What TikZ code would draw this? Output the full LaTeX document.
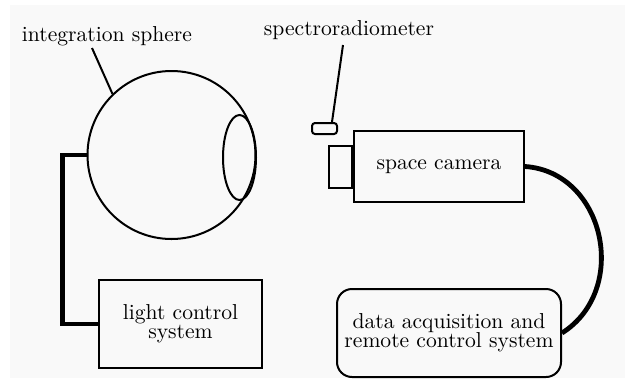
\documentclass[tikz,border=0pt]{standalone}
\usetikzlibrary{shapes.geometric}
\definecolor{bgpaper}{HTML}{F9F9F9}
\begin{document}
\begin{tikzpicture}[x=0.5pt,y=-0.5pt,
  thin line/.style={line width=1pt},
  wire/.style={line width=2.4pt},
  lbl/.style={inner sep=0pt, font=\fontsize{10.8}{9.6}\selectfont, align=center},
  boxed/.style={draw, thin line, inner sep=0pt, font=\fontsize{10.8}{9.6}\selectfont, align=center}]
\useasboundingbox[fill=white] (0,0) rectangle (627,381);
\fill[bgpaper] (10,5) rectangle (625,378);
% integration sphere
\node[circle, draw, thin line, inner sep=0pt, minimum size=84pt] (sphere) at (171.5,155) {};
\node[ellipse, draw, thin line, inner sep=0pt, minimum width=16.5pt, minimum height=42.5pt] (port) at (239.5,157.5) {};
\node[lbl] (intlabel) at (107,36) {integration sphere};
\coordinate (intend) at (92,48);
\draw[thin line] (intend) -- (sphere.134);
% light control
\node[boxed, minimum width=81.5pt, minimum height=44pt] (light) at (180.5,324) {light control\\system};
\draw[wire] (sphere.west) -- ++(-24,0) |- (light.west);
% spectroradiometer
\node[draw, thin line, rounded corners=1.5pt, inner sep=0pt, minimum width=12.5pt, minimum height=5.5pt] (spec) at (324.5,128.5) {};
\node[lbl] (speclabel) at (349,30) {spectroradiometer};
\coordinate (specend) at (343,45);
\draw[thin line] (specend) -- ([xshift=3.75pt]spec.north);
% camera
\node[boxed, minimum width=85pt, minimum height=35.5pt] (camera) at (439,166.5) {space camera};
\node[draw, thin line, inner sep=0pt, minimum width=11.5pt, minimum height=21pt, anchor=east] (lens) at (camera.west) {};
% data acquisition
\node[boxed, rounded corners=7.5pt, minimum width=112pt, minimum height=44pt] (daq) at (449,333) {data acquisition and\\remote control system};
\draw[wire] (camera.east) .. controls (605,172) and (630,290) .. (daq.east);
\end{tikzpicture}
\end{document}
